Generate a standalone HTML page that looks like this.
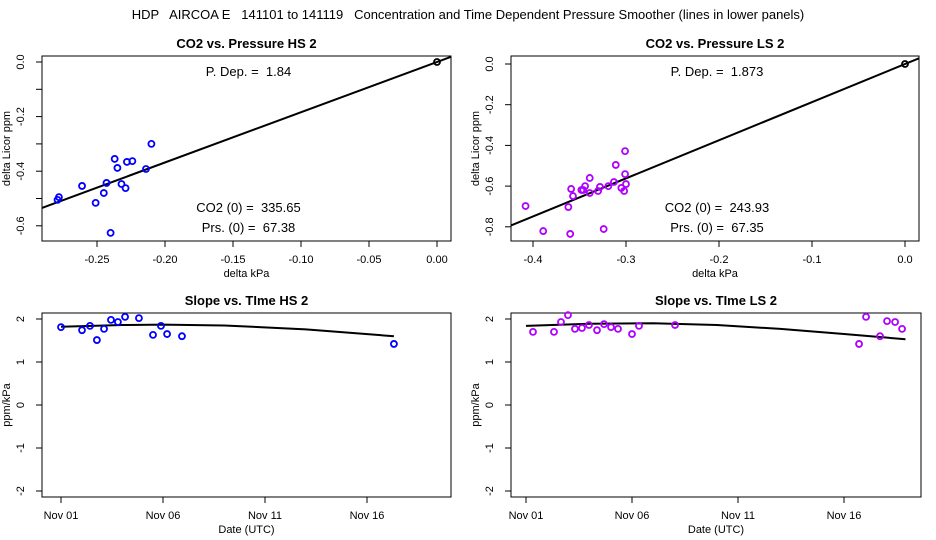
<!DOCTYPE html>
<html><head><meta charset="utf-8"><style>
body{margin:0;background:#fff;}
svg{display:block;font-family:"Liberation Sans",sans-serif;}
text{white-space:pre;}
</style></head><body>
<svg id="c" width="936" height="540" viewBox="0 0 936 540">
<text x="468" y="19" text-anchor="middle" font-size="13" xml:space="preserve">HDP   AIRCOA E   141101 to 141119   Concentration and Time Dependent Pressure Smoother (lines in lower panels)</text>
</svg>
<script>
// ---- data ----
const hsDp = [-0.279,-0.278,-0.261,-0.251,-0.245,-0.243,-0.240,-0.237,-0.235,-0.232,-0.229,-0.228,-0.224,-0.214,-0.210];
const hsDc = [-0.505,-0.495,-0.454,-0.516,-0.480,-0.443,-0.626,-0.355,-0.388,-0.447,-0.462,-0.366,-0.363,-0.392,-0.300];
const hsSlope = 1.84;
const lsDp = [-0.408,-0.389,-0.362,-0.360,-0.359,-0.357,-0.348,-0.346,-0.344,-0.339,-0.339,-0.330,-0.328,-0.324,-0.319,-0.313,-0.311,-0.305,-0.302,-0.301,-0.301,-0.300];
const lsDc = [-0.698,-0.821,-0.703,-0.835,-0.614,-0.649,-0.619,-0.619,-0.600,-0.560,-0.634,-0.624,-0.604,-0.811,-0.600,-0.580,-0.496,-0.609,-0.624,-0.541,-0.428,-0.590];
const lsSlope = 1.873;
const hsDays = [0,1.03,1.42,1.76,2.11,2.45,2.79,3.14,3.82,4.51,4.90,5.20,5.93,16.32];
const hsVals = [1.81,1.74,1.84,1.51,1.77,1.98,1.93,2.05,2.02,1.63,1.84,1.65,1.60,1.42];
const hsCurveDays = [0,3,5,8,12,16.32];
const hsCurveVals = [1.82,1.86,1.87,1.85,1.76,1.60];
const lsDays = [0.33,1.32,1.65,1.98,2.31,2.64,2.97,3.35,3.68,4.01,4.34,5.00,5.33,7.03,15.71,16.04,16.70,17.03,17.41,17.74];
const lsVals = [1.70,1.70,1.93,2.09,1.77,1.79,1.86,1.74,1.88,1.81,1.77,1.65,1.84,1.86,1.42,2.05,1.60,1.95,1.93,1.77];
const lsCurveDays = [0,3,6,9,12,15,17.9];
const lsCurveVals = [1.84,1.89,1.90,1.86,1.77,1.65,1.53];
const dateTicks = [0,5,10,15];
const dateLabels = ['Nov 01','Nov 06','Nov 11','Nov 16'];
const slopeTicks = [-2,-1,0,1,2];

const svg = document.getElementById('c');
const NS = 'http://www.w3.org/2000/svg';
function mk(tag, attrs, parent){const e=document.createElementNS(NS,tag);for(const k in attrs)e.setAttribute(k,attrs[k]);(parent||svg).appendChild(e);return e;}
function txt(x,y,s,size,anchor,rot,bold){const t=mk('text',{x:x,y:y,'font-size':size,'text-anchor':anchor||'middle'});if(rot)t.setAttribute('transform','rotate(-90 '+x+' '+y+')');if(bold)t.setAttribute('font-weight','bold');t.textContent=s;return t;}

function panel(o){
  const g = mk('g',{});
  
  
  const box = mk('rect',{x:o.L,y:o.T,width:o.R-o.L,height:o.B-o.T,fill:'none',stroke:'#000','stroke-width':1},g);
  
  
  const tt = txt((o.L+o.R)/2, o.T-8, o.title, 13, 'middle', false, true); g.appendChild(tt);
  
  
  o.yTicks.forEach((v,i)=>{const y=o.sy(v);mk('line',{x1:o.L-6,x2:o.L,y1:y,y2:y,stroke:'#000'},g);
    if(o.yLabels[i]!==null){const t=txt(o.L-18,y,o.yLabels[i],11,'middle',true);g.appendChild(t);
    
    }});
  o.xTicks.forEach((v,i)=>{const x=o.sx(v);mk('line',{x1:x,x2:x,y1:o.B,y2:o.B+6,stroke:'#000'},g);
    const t=txt(x,o.B+22,o.xLabels[i],11,'middle');g.appendChild(t);
    
    });
  const xt=txt((o.L+o.R)/2,o.B+36,o.xTitle,11,'middle');g.appendChild(xt);
  
  
  const yt=txt(o.L-32,(o.T+o.B)/2,o.yTitle,11,'middle',true);g.appendChild(yt);
  
  
  return g;
}
function clipFor(id,o){const cp=mk('clipPath',{id:id});mk('rect',{x:o.L,y:o.T,width:o.R-o.L,height:o.B-o.T},cp);}
function pts(g,xs,ys,o,color){
  xs.forEach((d,i)=>{const c=mk('circle',{cx:o.sx(d),cy:o.sy(ys[i]),r:3,fill:'none',stroke:color,'stroke-width':1.8},g);
    
    });
}

const p1={name:'co2-vs-pressure-hs',L:42,R:451,T:56,B:241,title:'CO2 vs. Pressure HS 2',xTitle:'delta kPa',yTitle:'delta Licor ppm'};
p1.sx=v=>437+v*1360; p1.sy=v=>62-v*273;
p1.yTicks=[0,-0.1,-0.2,-0.3,-0.4,-0.5,-0.6]; p1.yLabels=['0.0',null,'-0.2',null,'-0.4',null,'-0.6'];
p1.xTicks=[-0.25,-0.2,-0.15,-0.1,-0.05,0]; p1.xLabels=['-0.25','-0.20','-0.15','-0.10','-0.05','0.00'];
const p2={name:'co2-vs-pressure-ls',L:511,R:919,T:56,B:241,title:'CO2 vs. Pressure LS 2',xTitle:'delta kPa',yTitle:'delta Licor ppm'};
p2.sx=v=>905+v*930; p2.sy=v=>64-v*203.5;
p2.yTicks=[0,-0.2,-0.4,-0.6,-0.8]; p2.yLabels=['0.0','-0.2','-0.4','-0.6','-0.8'];
p2.xTicks=[-0.4,-0.3,-0.2,-0.1,0]; p2.xLabels=['-0.4','-0.3','-0.2','-0.1','0.0'];
const p3={name:'slope-vs-time-hs',L:42,R:451,T:313,B:497,title:'Slope vs. TIme HS 2',xTitle:'Date (UTC)',yTitle:'ppm/kPa'};
p3.sx=v=>61+v*20.4; p3.sy=v=>405-v*43;
const p4={name:'slope-vs-time-ls',L:511,R:921,T:313,B:497,title:'Slope vs. TIme LS 2',xTitle:'Date (UTC)',yTitle:'ppm/kPa'};
p4.sx=v=>526+v*21.2; p4.sy=v=>405-v*43;
[p3,p4].forEach(p=>{p.yTicks=slopeTicks;p.yLabels=slopeTicks.map(String);p.xTicks=dateTicks;p.xLabels=dateLabels;});

clipFor('c1',p1);clipFor('c2',p2);

function scatterPanel(p,dp,dc,slope,clip,color,pdep,co2,prs){
  const g=panel(p);
  const x0=(p.L-p.sx(0))/(p.sx(1)-p.sx(0)), x1=(p.R-p.sx(0))/(p.sx(1)-p.sx(0));
  const ln=mk('line',{x1:p.sx(x0),y1:p.sy(slope*x0),x2:p.sx(x1),y2:p.sy(slope*x1),stroke:'#000','stroke-width':2,'clip-path':'url(#'+clip+')'},g);
  
  
  pts(g,dp,dc,p,color);
  const z=mk('circle',{cx:p.sx(0),cy:p.sy(0),r:3,fill:'none',stroke:'#000','stroke-width':1.8},g);
  
  
  const cx=(p.L+p.R)/2+2;
  [[pdep,76],[co2,212],[prs,232]].forEach(a=>{const t=txt(cx,a[1],a[0],13,'middle');g.appendChild(t);
    
    });
}
scatterPanel(p1,hsDp,hsDc,hsSlope,'c1','#0000ff','P. Dep. =  1.84','CO2 (0) =  335.65','Prs. (0) =  67.38');
scatterPanel(p2,lsDp,lsDc,lsSlope,'c2','#b000ff','P. Dep. =  1.873','CO2 (0) =  243.93','Prs. (0) =  67.35');

function timePanel(p,d,v,cd,cv,color){
  const g=panel(p);
  const path=mk('path',{d:cd.map((x,i)=>(i?'L':'M')+p.sx(x)+','+p.sy(cv[i])).join(''),fill:'none',stroke:'#000','stroke-width':2},g);
  
  
  pts(g,d,v,p,color);
}
timePanel(p3,hsDays,hsVals,hsCurveDays,hsCurveVals,'#0000ff');
timePanel(p4,lsDays,lsVals,lsCurveDays,lsCurveVals,'#b000ff');
</script>
</body></html>
